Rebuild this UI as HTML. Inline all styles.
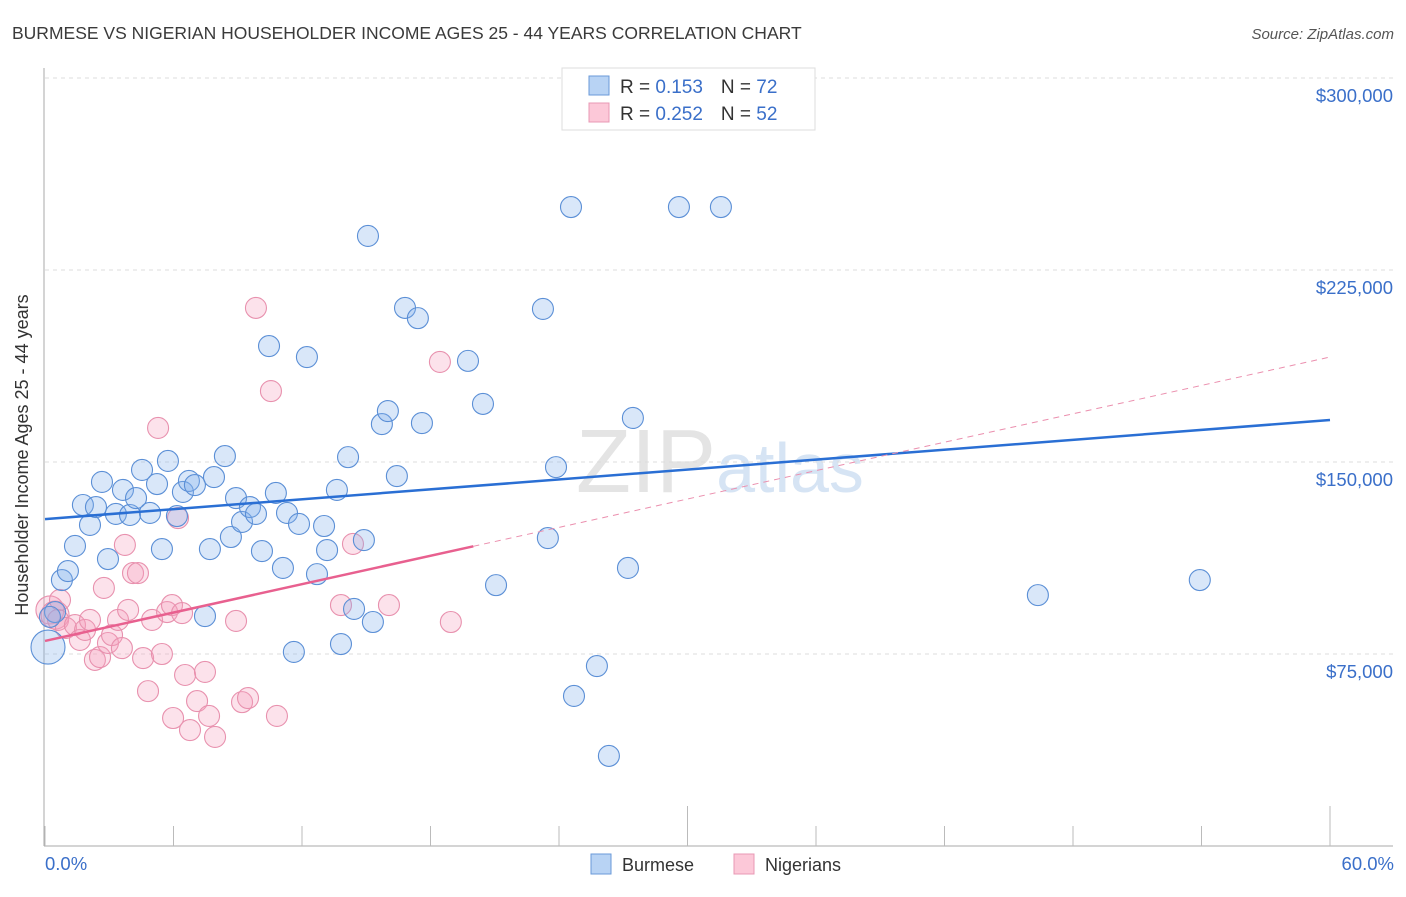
<!DOCTYPE html>
<html><head><meta charset="utf-8"><style>
body{margin:0;background:#fff;font-family:"Liberation Sans",sans-serif}
svg text{font-family:"Liberation Sans",sans-serif}
</style></head><body>
<svg id="c" width="1406" height="892">
<text x="12" y="39" font-size="17.5" fill="#3a3a3a">BURMESE VS NIGERIAN HOUSEHOLDER INCOME AGES 25 - 44 YEARS CORRELATION CHART</text>
<text x="1394" y="39" font-size="15" fill="#555" text-anchor="end" font-style="italic">Source: ZipAtlas.com</text>
<text x="720" y="492" font-size="90" fill="#e4e4e4" text-anchor="middle" font-family="Liberation Serif">ZIP<tspan fill="#d6e4f4" font-family="Liberation Sans" font-size="70">atlas</tspan></text>
<g id="grid"></g><g id="axes"></g><g id="pts"></g><g id="trend"></g>
<text x="28" y="455" font-size="18" fill="#333" text-anchor="middle" transform="rotate(-90 28 455)">Householder Income Ages 25 - 44 years</text>
<text x="45" y="870" font-size="18.5" fill="#3a6fc9">0.0%</text>
<text x="1394" y="870" font-size="18.5" fill="#3a6fc9" text-anchor="end">60.0%</text>
<g>
<rect x="591" y="854" width="20" height="20" fill="#b8d3f4" stroke="#6a9ad8"/>
<text x="622" y="871" font-size="18" fill="#333">Burmese</text>
<rect x="734" y="854" width="20" height="20" fill="#fcc8d8" stroke="#e898b4"/>
<text x="765" y="871" font-size="18" fill="#333">Nigerians</text>
</g>
<g>
<rect x="562" y="68" width="253" height="62" fill="#fff" stroke="#ddd"/>
<rect x="589" y="76" width="20" height="19" fill="#b8d3f4" stroke="#6a9ad8"/>
<rect x="589" y="103" width="20" height="19" fill="#fcc8d8" stroke="#e898b4"/>
<text x="620" y="93" font-size="19" fill="#333">R = <tspan fill="#3a6fc9">0.153</tspan><tspan dx="18">N = </tspan><tspan fill="#3a6fc9">72</tspan></text>
<text x="620" y="120" font-size="19" fill="#333">R = <tspan fill="#3a6fc9">0.252</tspan><tspan dx="18">N = </tspan><tspan fill="#3a6fc9">52</tspan></text>
</g>
</svg>
<script>
const yTicks=[75000,150000,225000,300000];
const yTickLabels=["$75,000","$150,000","$225,000","$300,000"];
const xTicks=[0,6,12,18,24,30,36,42,48,54,60];
const burmeseX=[0.14,0.79,1.07,1.40,1.77,2.10,2.38,2.66,2.94,3.31,3.64,3.97,4.25,4.53,4.90,5.23,5.46,5.74,6.16,6.44,6.72,7.00,7.47,7.70,7.89,8.40,8.68,8.92,9.20,9.57,9.85,10.13,10.46,10.78,11.11,11.30,11.62,11.86,12.23,12.70,13.03,13.17,13.63,13.82,14.15,14.43,14.89,15.08,15.31,15.73,16.01,16.43,16.81,17.41,17.60,19.75,20.45,21.06,23.25,23.48,23.86,24.56,24.70,25.77,26.33,27.22,27.45,29.60,31.56,46.36,53.92,0.47,0.23];
const burmeseY=[77700,103900,107400,117200,133200,125400,132400,142200,112100,129700,139100,129300,135900,146900,130100,141400,116000,150400,128900,138300,142600,141000,89800,116000,144100,152300,120700,135900,126600,132400,129700,115200,195300,137900,108600,130100,75800,125800,191000,106200,125000,115600,139100,78900,151900,92600,119500,238300,87500,164800,169900,144500,210200,206200,165200,189500,172700,101900,209800,120300,148000,249600,58600,70300,35200,108600,167200,249600,249600,98000,103900,91400,89500];
const nigerianX=[0.23,0.47,0.61,0.98,1.40,1.63,1.87,2.10,2.33,2.57,2.75,2.94,3.13,3.41,3.59,3.73,3.88,4.11,4.34,4.58,4.81,5.00,5.28,5.46,5.70,5.93,6.21,6.40,6.54,5.98,6.77,7.10,7.47,7.66,7.94,8.92,9.20,9.48,9.85,10.55,10.83,13.82,14.38,16.06,18.44,18.95,0.70];
const nigerianY=[92200,90200,88300,85200,86300,80500,84400,88300,72700,73800,100800,79300,82400,88300,77300,117600,92200,106600,106600,73400,60500,88300,163300,75000,91400,94100,128100,91000,66800,50000,45300,56600,68000,50800,42600,87900,56200,57800,210200,177700,50800,94100,118000,94100,189100,87500,96100];
const burmeseTrend=[127700,166400];
const nigerianTrend=[80100,191000];
const nigerianSolidEnd=20;
const X=v=>45+v*(1285/60), Y=v=>846-v*(192/75000);
const NS='http://www.w3.org/2000/svg';
function mk(t,a,p){const e=document.createElementNS(NS,t);for(const k in a)e.setAttribute(k,a[k]);p.appendChild(e);return e;}
const grid=document.getElementById('grid'),axes=document.getElementById('axes'),pts=document.getElementById('pts'),tr=document.getElementById('trend'),svg=document.getElementById('c');
yTicks.forEach((v,i)=>{
 const l=mk('line',{x1:45,x2:1393,y1:Y(v),y2:Y(v),stroke:'#ddd','stroke-dasharray':'4,4'},grid);
 
 
 const t=mk('text',{x:1393,y:Y(v)+24,'font-size':18.5,fill:'#3a6fc9','text-anchor':'end'},svg);
 t.textContent=yTickLabels[i];
 
 
});
const ya=mk('line',{x1:44,x2:44,y1:68,y2:846,stroke:'#aaa'},axes);


const xa=mk('line',{x1:44,x2:1393,y1:846,y2:846,stroke:'#aaa'},axes);


xTicks.forEach(v=>{const tall=(v===30||v===60);
 const t=mk('line',{x1:X(v),x2:X(v),y1:tall?806:826,y2:846,stroke:'#bbb'},axes);
 
 
});
function dots(xs,ys,fill,stroke,name){xs.forEach((x,i)=>{
 const big=(i===0&&name==='burmese-point');
 const c=mk('circle',{cx:X(x),cy:Y(ys[i]),r:big?17:(i<2&&name==='nigerian-point'?14:10.5),fill:fill,stroke:stroke,'stroke-width':1.1},pts);
 
 
});}
dots(nigerianX,nigerianY,'rgba(245,160,190,0.3)','#e891ae','nigerian-point');
dots(burmeseX,burmeseY,'rgba(130,175,235,0.3)','#5b8fd6','burmese-point');
const bt=mk('line',{x1:X(0),y1:Y(burmeseTrend[0]),x2:X(60),y2:Y(burmeseTrend[1]),stroke:'#2a6fd4','stroke-width':2.5},tr);


const ny=x=>nigerianTrend[0]+(nigerianTrend[1]-nigerianTrend[0])*x/60;
const nt=mk('line',{x1:X(0),y1:Y(ny(0)),x2:X(nigerianSolidEnd),y2:Y(ny(nigerianSolidEnd)),stroke:'#e8608f','stroke-width':2.5},tr);


const nd=mk('line',{x1:X(nigerianSolidEnd),y1:Y(ny(nigerianSolidEnd)),x2:X(60),y2:Y(ny(60)),stroke:'#eb8fae','stroke-width':1,'stroke-dasharray':'6,5'},tr);


</script>
</body></html>
